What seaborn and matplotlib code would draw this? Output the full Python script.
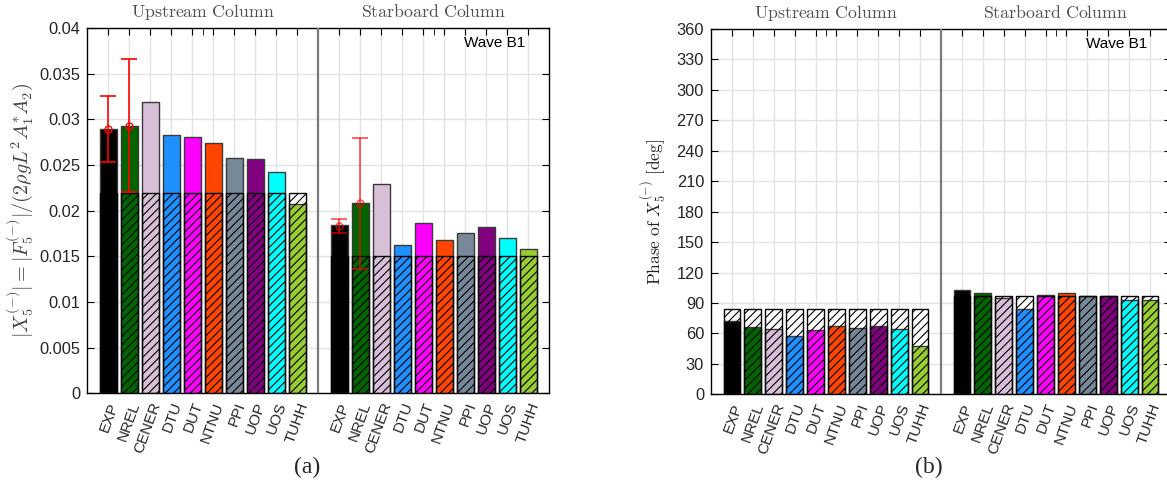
import numpy as np
import pandas as pd
import matplotlib
matplotlib.use("Agg")
import matplotlib.pyplot as plt
import seaborn as sns
from matplotlib.ticker import FixedLocator, MultipleLocator, FuncFormatter

# ---------------- data ----------------
models = ["EXP", "NREL", "CENER", "DTU", "DUT", "NTNU", "PPI", "UOP", "UOS", "TUHH"]
colors = ["#000000", "#006400", "#D8BFD8", "#1E90FF", "#FF00FF",
          "#FF4500", "#778899", "#800080", "#00FFFF", "#9ACD32"]

amp_up = [0.0289, 0.0293, 0.0319, 0.0283, 0.0281, 0.0274, 0.0258, 0.0257, 0.0242, 0.0207]
amp_sb = [0.0184, 0.0208, 0.0229, 0.0162, 0.0186, 0.0168, 0.0176, 0.0182, 0.0170, 0.0158]
amp_ref_up = 0.0219
amp_ref_sb = 0.0150

# experimental uncertainty (EXP, NREL)
err_up_center = [0.0289, 0.0293]
err_up_lo = [0.0253, 0.0220]
err_up_hi = [0.0325, 0.0366]
err_sb_center = [0.0183, 0.0208]
err_sb_lo = [0.0176, 0.0136]
err_sb_hi = [0.0191, 0.0280]

phase_up = [72, 66, 64, 57, 63, 67, 65, 67, 64, 48]
phase_sb = [103, 100, 95, 84, 97.5, 99.5, 96.5, 96.5, 93, 93]
phase_ref_up = 84
phase_ref_sb = 97

group_labels = ["Upstream Column", "Starboard Column"]
wave_label = "Wave B1"

# ---------------- style ----------------
sns.set_style("white")
plt.rcParams["font.family"] = ["Liberation Sans", "DejaVu Sans"]
plt.rcParams["mathtext.fontset"] = "cm"
plt.rcParams["hatch.linewidth"] = 0.8
plt.rcParams["hatch.color"] = "black"

W, H = 1167, 488
fig = plt.figure(figsize=(W / 100, H / 100), dpi=100)
ax1 = fig.add_axes([87.3 / W, (H - 393.3) / H, 462 / W, 365.3 / H])
ax2 = fig.add_axes([711 / W, (H - 394.3) / H, 460 / W, 365.3 / H])

pos = np.r_[np.arange(1, 11), np.arange(12, 22)]
palette = dict(zip(models, colors))


def draw(ax, up, sb, ref_up, ref_sb):
    df = pd.DataFrame({"pos": pos, "model": models * 2,
                       "value": list(up) + list(sb),
                       "ref": [ref_up] * 10 + [ref_sb] * 10})
    # white background for reference (hatched) part
    sns.barplot(data=df, x="pos", y="ref", color="white", native_scale=True,
                width=0.8, errorbar=None, ax=ax, zorder=2, linewidth=0,
                saturation=1)
    sns.barplot(data=df, x="pos", y="value", hue="model", palette=palette,
                native_scale=True, width=0.8, dodge=False, errorbar=None,
                legend=False, ax=ax, edgecolor="#3a3a3a", linewidth=1, zorder=3,
                saturation=1)
    n1 = len(ax.patches)
    sns.barplot(data=df, x="pos", y="ref", native_scale=True, width=0.8,
                errorbar=None, ax=ax, fill=False, zorder=4)
    for p in ax.patches[n1:]:
        p.set_facecolor("none")
        p.set_edgecolor("black")
        p.set_hatch("////")
        p.set_linewidth(1)

    ax.axvline(11, color="#7a7a7a", lw=1.6, zorder=5)
    ax.set_xlim(0, 22)
    ax.set_xticks(pos)
    ax.set_xticklabels(models * 2, rotation=70, ha="right", va="top",
                       rotation_mode="anchor", fontsize=11)
    ax.xaxis.set_minor_locator(FixedLocator([5.5, 16.5]))
    ax.tick_params(axis="x", which="both", bottom=False, top=True,
                   direction="in", length=5, labelbottom=True, pad=5, color="black")
    ax.tick_params(axis="y", which="major", left=True, right=True,
                   direction="in", length=5, labelsize=11.8, pad=5, color="black")
    ax.grid(True, which="major", color="#e2e2e2", lw=1)
    ax.set_axisbelow(True)
    for s in ax.spines.values():
        s.set_color("black")
        s.set_linewidth(1)
    ax.set_xlabel("")
    for xg, lab in zip([5.5, 16.5], group_labels):
        ax.annotate(r"$\mathrm{" + lab.replace(" ", r"\ ") + "}$",
                    xy=(xg, 1), xycoords=("data", "axes fraction"),
                    xytext=(0, 11.5), textcoords="offset points",
                    ha="center", va="center", fontsize=12.8, color="#505050")
    ax.text(0.948, 0.96, wave_label, transform=ax.transAxes, ha="right",
            va="center", fontsize=11, color="black")


draw(ax1, amp_up, amp_sb, amp_ref_up, amp_ref_sb)
draw(ax2, phase_up, phase_sb, phase_ref_up, phase_ref_sb)

# error bars
for cen, lo, hi, xs, a in [(err_up_center, err_up_lo, err_up_hi, pos[:2], 1.0),
                           (err_sb_center, err_sb_lo, err_sb_hi, pos[10:12], 0.7)]:
    cen = np.array(cen); lo = np.array(lo); hi = np.array(hi)
    ax1.errorbar(xs, cen, yerr=[cen - lo, hi - cen], fmt="o", color="red",
                 mfc="none", mec="red", ms=5, lw=1.2, capsize=5.5, capthick=1.2,
                 alpha=a, zorder=6)

ax1.set_ylim(0, 0.04)
ax1.yaxis.set_major_locator(MultipleLocator(0.005))
ax1.yaxis.set_major_formatter(FuncFormatter(lambda v, p: f"{v:.3f}".rstrip("0").rstrip(".") if v else "0"))
ax1.set_ylabel(r"$|X_5^{(-)}| = |F_5^{(-)}|/(2\rho g L^2 A_1^{*} A_2)$",
               fontsize=14.5, color="#444444", labelpad=3)

ax2.set_ylim(0, 360)
ax2.yaxis.set_major_locator(MultipleLocator(30))
ax2.set_ylabel(r"$\mathrm{Phase\ of\ }X_5^{(-)}\ [\mathrm{deg}]$",
               fontsize=12.5, color="#222222", labelpad=5)

fig.text(307.5 / W, 1 - 467 / H, "(a)", ha="center", va="center",
         fontsize=17, family="Liberation Serif")
fig.text(929 / W, 1 - 467 / H, "(b)", ha="center", va="center",
         fontsize=17, family="Liberation Serif")

fig.savefig("out.png", dpi=100)
